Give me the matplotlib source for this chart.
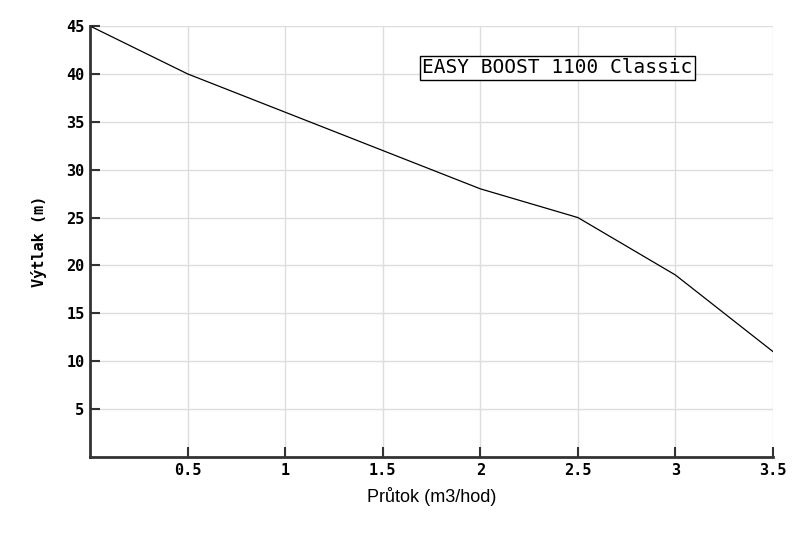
import matplotlib
matplotlib.use('Agg')
import matplotlib.pyplot as plt

flow = [0, 0.5, 1, 1.5, 2, 2.5, 3, 3.5]
head = [45, 40, 36, 32, 28, 25, 19, 11]
xticks = [0.5, 1, 1.5, 2, 2.5, 3, 3.5]
xticklabels = ['0.5', '1', '1.5', '2', '2.5', '3', '3.5']
yticks = [5, 10, 15, 20, 25, 30, 35, 40, 45]

fig = plt.figure(figsize=(8, 5.33), dpi=100)
ax = fig.add_axes([0.1125, 0.1426, 0.8538, 0.8086])

ax.plot(flow, head, color='black', linewidth=0.9)

ax.set_xlim(0, 3.5)
ax.set_ylim(0, 45)
ax.set_xticks(xticks)
ax.set_xticklabels(xticklabels)
ax.set_yticks(yticks)

mono = {'family': 'DejaVu Sans Mono', 'weight': 'bold', 'size': 11}
for lab in ax.get_xticklabels() + ax.get_yticklabels():
    lab.set_fontproperties(matplotlib.font_manager.FontProperties(**mono))

ax.tick_params(direction='in', length=7, width=1.5, color='#333333', pad=4)
ax.grid(True, color='#dddddd', linewidth=1)
ax.set_axisbelow(True)

for s in ['top', 'right']:
    ax.spines[s].set_visible(False)
for s in ['left', 'bottom']:
    ax.spines[s].set_linewidth(2)
    ax.spines[s].set_color('#333333')

ax.set_xlabel('Průtok (m3/hod)', family='Liberation Sans', fontsize=13, labelpad=7)
ax.set_ylabel('Výtlak (m)', family='DejaVu Sans Mono', fontweight='bold', fontsize=11, labelpad=14)

ax.text(0.684, 0.9026, 'EASY BOOST 1100 Classic', transform=ax.transAxes,
        ha='center', va='center', family='DejaVu Sans Mono', fontsize=14,
        bbox=dict(boxstyle='square,pad=0.12', facecolor='white', edgecolor='black', linewidth=1))

fig.savefig('out.png', dpi=100)
